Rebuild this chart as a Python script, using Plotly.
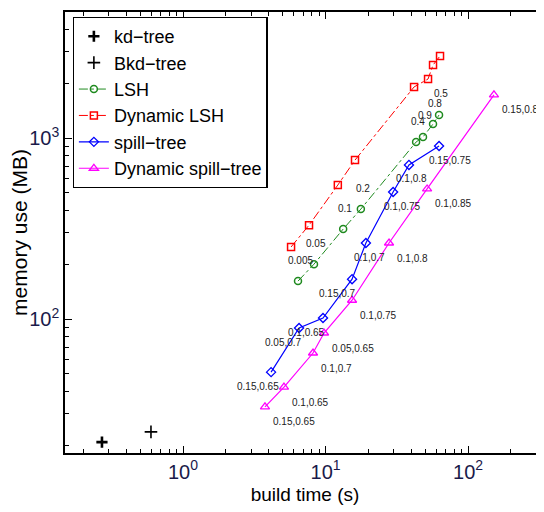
import numpy as np
import plotly.graph_objects as go

# ---------------- data ----------------
kd_x = [0.270]
kd_y = [20.9]
bkd_x = [0.596]
bkd_y = [23.8]

lsh_x = [6.41, 8.30, 13.3, 17.7, 43.2, 48.3, 56.8, 62.6]
lsh_y = [162, 201, 314, 405, 950, 1013, 1194, 1340]
lsh_labels = ["0.005", "0.05", "0.1", "0.2", "0.4", "0.9", "0.8", "0.5"]

dlsh_x = [5.73, 7.66, 12.2, 16.1, 41.8, 52.4, 56.8, 63.6]
dlsh_y = [250, 330, 550, 755, 1914, 2118, 2528, 2839]

spill_x = [4.15, 6.52, 9.60, 15.35, 19.2, 29.8, 38.5, 62.6]
spill_y = [50.9, 89.2, 101.3, 166, 263, 503, 710, 903]
spill_labels = ["0.15,0.65", "0.05,0.7", "0.1,0.65", "0.15,0.7",
                "0.1,0.7", "0.1,0.75", "0.1,0.8", "0.15,0.75"]

dspill_x = [3.76, 5.11, 8.17, 9.76, 15.35, 27.9, 51.6, 152]
dspill_y = [32.7, 42.1, 64.9, 83.7, 127, 263, 523, 1730]
dspill_labels = ["0.15,0.65", "0.1,0.65", "0.1,0.7", "0.05,0.65",
                 "0.1,0.75", "0.1,0.8", "0.1,0.85", "0.15,0.85"]

x_tick_vals = [1, 10, 100]
x_tick_text = ["10<sup>0</sup>", "10<sup>1</sup>", "10<sup>2</sup>"]
y_tick_vals = [100, 1000]
y_tick_text = ["10<sup>2</sup>", "10<sup>3</sup>"]

# label pixel offsets (style only)
spill_label_dx = [-13, -16, -17, -15, 4, 9, 3, 11]

FONT = "Liberation Sans, Arial, sans-serif"

fig = go.Figure()

fig.add_trace(go.Scatter(x=kd_x, y=kd_y, mode="markers", name="kd\u2212tree",
                         marker=dict(symbol="cross-thin-open", size=8, color="black",
                                     line=dict(width=2.6, color="black"))))
fig.add_trace(go.Scatter(x=bkd_x, y=bkd_y, mode="markers", name="Bkd\u2212tree",
                         marker=dict(symbol="cross-thin-open", size=9, color="black",
                                     line=dict(width=1.6, color="black"))))
fig.add_trace(go.Scatter(x=lsh_x, y=lsh_y, mode="lines+markers", name="LSH",
                         line=dict(color="#1f8a1f", width=1, dash="dashdot"),
                         marker=dict(symbol="circle-open", size=7, color="#1f8a1f",
                                     line=dict(width=1.5))))
fig.add_trace(go.Scatter(x=dlsh_x, y=dlsh_y, mode="lines+markers", name="Dynamic LSH",
                         line=dict(color="red", width=1, dash="dashdot"),
                         marker=dict(symbol="square-open", size=7, color="red",
                                     line=dict(width=1.5))))
fig.add_trace(go.Scatter(x=spill_x, y=spill_y, mode="lines+markers", name="spill\u2212tree",
                         line=dict(color="blue", width=1.2),
                         marker=dict(symbol="diamond-open", size=7, color="blue",
                                     line=dict(width=1.3))))
fig.add_trace(go.Scatter(x=dspill_x, y=dspill_y, mode="lines+markers", name="Dynamic spill\u2212tree",
                         line=dict(color="magenta", width=1.2),
                         marker=dict(symbol="triangle-up-open", size=8, color="magenta",
                                     line=dict(width=1.3))))

annotations = []
lab_font = dict(family=FONT, size=10, color="#222")
for x, y, t in zip(lsh_x, lsh_y, lsh_labels):
    annotations.append(dict(x=np.log10(x), y=np.log10(y), text=t, showarrow=False,
                            xanchor="center", yanchor="middle", xshift=2, yshift=21,
                            font=lab_font))
for x, y, t, dx in zip(spill_x, spill_y, spill_labels, spill_label_dx):
    annotations.append(dict(x=np.log10(x), y=np.log10(y), text=t, showarrow=False,
                            xanchor="center", yanchor="middle", xshift=dx, yshift=-14,
                            font=lab_font))
for x, y, t in zip(dspill_x, dspill_y, dspill_labels):
    annotations.append(dict(x=np.log10(x), y=np.log10(y), text=t, showarrow=False,
                            xanchor="left", yanchor="middle", xshift=6, yshift=-15,
                            font=lab_font))

x_minor = [m * 10.0 ** e for e in range(-1, 3) for m in range(2, 10)]
y_minor = [m * 10.0 ** e for e in range(1, 4) for m in range(2, 10)]

fig.update_layout(
    width=544, height=512,
    margin=dict(l=57, r=7, t=4, b=67),
    paper_bgcolor="white", plot_bgcolor="white",
    font=dict(family=FONT, size=18, color="black"),
    showlegend=True,
    legend=dict(x=0.016, y=0.989, xanchor="left", yanchor="top",
                bgcolor="white", bordercolor="black", borderwidth=1.2,
                font=dict(size=18, family=FONT), tracegroupgap=0,
                itemwidth=30),
    annotations=annotations,
)
fig.update_xaxes(type="log", range=[-0.828, 2.540], automargin=False,
                 tickvals=x_tick_vals, ticktext=x_tick_text,
                 ticks="inside", ticklen=7, tickcolor="black",
                 showline=True, linecolor="black", linewidth=1.5, mirror="allticks",
                 showgrid=False, zeroline=False,
                 tickfont=dict(size=20, family=FONT, color="#1a1a4a"),
                 minor=dict(tickvals=x_minor, ticks="inside", ticklen=4, tickcolor="black", showgrid=False),
                 title=dict(text="build time (s)", font=dict(size=19, family=FONT), standoff=6))
fig.update_yaxes(type="log", range=[1.260, 3.696], automargin=False,
                 tickvals=y_tick_vals, ticktext=y_tick_text,
                 ticks="inside", ticklen=7, tickcolor="black",
                 showline=True, linecolor="black", linewidth=1.5, mirror="allticks",
                 showgrid=False, zeroline=False,
                 tickfont=dict(size=20, family=FONT, color="#1a1a4a"),
                 minor=dict(tickvals=y_minor, ticks="inside", ticklen=4, tickcolor="black", showgrid=False),
                 title=dict(text="memory use (MB)", font=dict(size=21, family=FONT), standoff=4))

fig.write_html("out.html")
